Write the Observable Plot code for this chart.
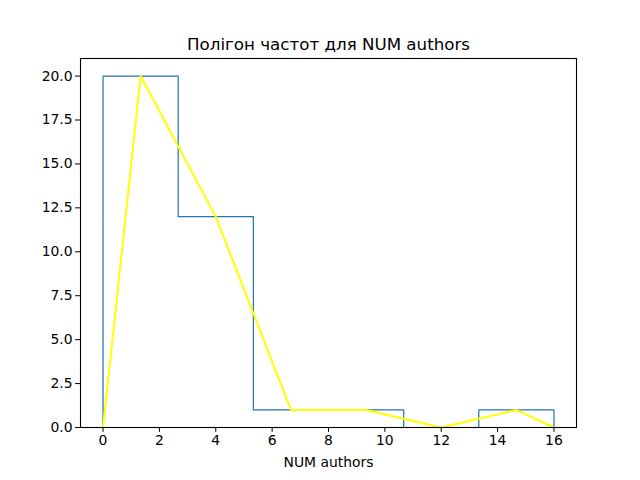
<!DOCTYPE html>
<html>
<head>
<meta charset="utf-8">
<script src="https://cdn.jsdelivr.net/npm/d3@7"></script>
<script src="https://cdn.jsdelivr.net/npm/@observablehq/plot@0.6"></script>
<style>
  body { margin: 0; background: #fff; }
</style>
</head>
<body>
<div id="chart"></div>
<script>
const titleText = "Полігон частот для NUM authors";
const xLabel = "NUM authors";
const binEdges = [0, 16/6, 32/6, 8, 64/6, 80/6, 16];
const binCounts = [20, 12, 1, 1, 0, 1];
const polyX = [0, 4/3, 4, 20/3, 28/3, 12, 44/3, 16];
const polyY = [0, 20, 12, 1, 1, 0, 1, 0];
const xTicks = [0, 2, 4, 6, 8, 10, 12, 14, 16];
const yTicks = [0, 2.5, 5, 7.5, 10, 12.5, 15, 17.5, 20];

// step outline built from the histogram bins
const stepPts = [{x: binEdges[0], y: 0}];
binCounts.forEach((c, i) => stepPts.push({x: binEdges[i], y: c}));
stepPts.push({x: binEdges[binEdges.length - 1], y: binCounts[binCounts.length - 1]});
stepPts.push({x: binEdges[binEdges.length - 1], y: 0});

const poly = polyX.map((x, i) => ({x, y: polyY[i]}));

const chart = Plot.plot({
  width: 640,
  height: 480,
  marginLeft: 80,
  marginRight: 64,
  marginTop: 58,
  marginBottom: 53,
  style: {fontFamily: "DejaVu Sans", fontSize: "13.9px", color: "#000", background: "#fff"},
  x: {domain: [-0.8, 16.8], ticks: xTicks, tickFormat: d => String(d), label: null, tickSize: 4.9, tickPadding: 3},
  y: {domain: [0, 21], ticks: yTicks, tickFormat: d => d.toFixed(1), label: null, tickSize: 4.9, tickPadding: 3},
  marks: [
    Plot.line(stepPts, {x: "x", y: "y", curve: "step-after", stroke: "#1f77b4", strokeWidth: 1.2}),
    Plot.line(poly, {x: "x", y: "y", stroke: "#ffff00", strokeWidth: 2}),
    Plot.frame({stroke: "#000", strokeWidth: 1.1}),
    Plot.axisX({ticks: xTicks, tickFormat: d => String(d), tickSize: 4.9, tickPadding: 3, label: null, stroke: "#000"}),
    Plot.axisY({ticks: yTicks, tickFormat: d => d.toFixed(1), tickSize: 4.9, tickPadding: 3, label: null, stroke: "#000"}),
    Plot.text([titleText], {frameAnchor: "top", dy: -14, lineAnchor: "middle", fontSize: 16.7, fill: "#000"}),
    Plot.text([xLabel], {frameAnchor: "bottom", dy: 35, lineAnchor: "middle", fontSize: 13.9, fill: "#000"})
  ]
});
document.getElementById("chart").appendChild(chart);
</script>
</body>
</html>
